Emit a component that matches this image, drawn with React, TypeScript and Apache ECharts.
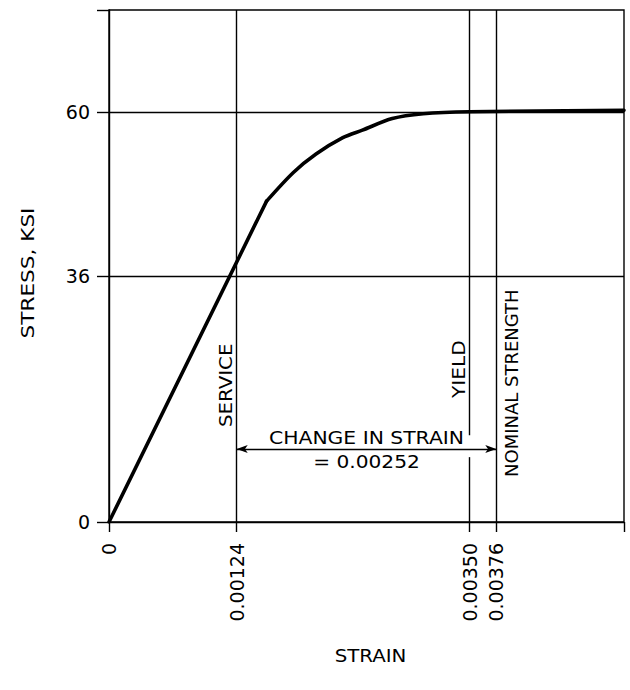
import React, { useEffect, useRef } from "react";
import * as echarts from "echarts";

// Stress-strain curve (strain, stress in ksi)
const strain = [0, 0.00153, 0.00179, 0.00201, 0.00227, 0.00246, 0.00275, 0.00305, 0.0035, 0.005];
const stress = [0, 47.0, 51.2, 53.9, 56.3, 57.4, 59.1, 59.8, 60.1, 60.3];
const kneeIndex = 1; // end of the straight elastic part

// Axis ticks and labels
const xTickValues = [0, 0.00124, 0.0035, 0.00376];
const xTickLabels = ["0", "0.00124", "0.00350", "0.00376"];
const yTickValues = [0, 36, 60];
const yTickLabels = ["0", "36", "60"];

// Reference lines
const serviceStrain = 0.00124;
const yieldStrain = 0.0035;
const nominalStrain = 0.00376;
const gridStress = [36, 60];
const changeLabel = "= 0.00252";

const X_MAX = 0.005;
const Y_MAX = 75;
const FONT = "DejaVu Sans";

export default function App() {
  const ref = useRef<HTMLDivElement>(null);

  useEffect(() => {
    if (!ref.current) return;
    const chart = echarts.init(ref.current, null, { renderer: "svg" });
    const black = "#000";
    const arrowY = 10.7;
    const gapTop = 12.7;
    const gapBottom = 9.5;
    const LW = 1.4;
    const points = strain.map((s, i) => [s, stress[i]]);

    chart.setOption({
      animation: false,
      backgroundColor: "#fff",
      grid: {
        left: 109,
        top: 10,
        right: 6,
        bottom: 168,
        show: true,
        borderColor: black,
        borderWidth: LW,
      },
      xAxis: {
        type: "value",
        min: 0,
        max: X_MAX,
        axisLine: { show: true, lineStyle: { color: black, width: LW } },
        axisTick: {
          show: true,
          length: 10,
          customValues: [...xTickValues, X_MAX],
          lineStyle: { color: black, width: LW },
        },
        axisLabel: {
          customValues: xTickValues,
          rotate: 90,
          margin: 21,
          color: black,
          fontFamily: FONT,
          fontSize: 19,
          formatter: (v: number) => {
            const i = xTickValues.findIndex((t) => Math.abs(t - v) < 1e-9);
            return i >= 0 ? xTickLabels[i] : "";
          },
        },
        splitLine: { show: false },
      },
      yAxis: {
        type: "value",
        min: 0,
        max: Y_MAX,
        axisLine: { show: true, lineStyle: { color: black, width: LW } },
        axisTick: {
          show: true,
          length: 12,
          customValues: [...yTickValues, Y_MAX],
          lineStyle: { color: black, width: LW },
        },
        axisLabel: {
          customValues: yTickValues,
          margin: 19,
          color: black,
          fontFamily: FONT,
          fontSize: 19,
          formatter: (v: number) => {
            const i = yTickValues.findIndex((t) => Math.abs(t - v) < 1e-9);
            return i >= 0 ? yTickLabels[i] : "";
          },
        },
        splitLine: { show: false },
      },
      series: [
        {
          type: "line",
          data: points.slice(0, kneeIndex + 1),
          showSymbol: false,
          symbol: "none",
          lineStyle: { color: black, width: 3.6, cap: "round", join: "round" },
          z: 5,
          markLine: {
            silent: true,
            symbol: "none",
            label: { show: false },
            lineStyle: { color: black, width: LW, type: "solid" },
            data: [
              [{ coord: [serviceStrain, Y_MAX] }, { coord: [serviceStrain, 0] }],
              [{ coord: [nominalStrain, Y_MAX] }, { coord: [nominalStrain, 0] }],
              ...gridStress.map((g) => [{ coord: [0, g] }, { coord: [X_MAX, g] }]),
              [{ coord: [yieldStrain, Y_MAX] }, { coord: [yieldStrain, gapTop] }],
              [{ coord: [yieldStrain, gapBottom] }, { coord: [yieldStrain, 0] }],
              [
                { coord: [serviceStrain, arrowY], symbol: "arrow", symbolSize: [6, 11] },
                { coord: [nominalStrain, arrowY], symbol: "arrow", symbolSize: [6, 11] },
              ],
            ],
          },
        },
        {
          type: "line",
          data: points.slice(kneeIndex),
          showSymbol: false,
          symbol: "none",
          smooth: 0.3,
          lineStyle: { color: black, width: 3.6, cap: "round", join: "round" },
          z: 5,
        },
      ],
    });

    const px = (x: number, y: number) =>
      chart.convertToPixel({ gridIndex: 0 }, [x, y]) as number[];

    const sv = px(serviceStrain, 0);
    const yl = px(yieldStrain, 0);
    const nm = px(nominalStrain, 0);
    const arr = px(serviceStrain, arrowY);
    const g0 = px(0, 0);
    const gTop = px(X_MAX, Y_MAX);
    const midX = (sv[0] + nm[0]) / 2;

    const textStyle = (extra: any) => ({
      fill: black,
      fontFamily: FONT,
      fontSize: 18,
      ...extra,
    });

    chart.setOption({
      graphic: [
        {
          type: "text",
          x: sv[0] - 11,
          y: 427,
          rotation: Math.PI / 2,
          scaleX: 1.1,
          style: textStyle({ text: "SERVICE", align: "left", verticalAlign: "middle" }),
        },
        {
          type: "text",
          x: yl[0] - 11,
          y: 398,
          rotation: Math.PI / 2,
          scaleX: 1.12,
          style: textStyle({ text: "YIELD", align: "left", verticalAlign: "middle" }),
        },
        {
          type: "text",
          x: nm[0] + 15,
          y: 477,
          rotation: Math.PI / 2,
          scaleX: 1.0,
          style: textStyle({ text: "NOMINAL STRENGTH", align: "left", verticalAlign: "middle" }),
        },
        {
          type: "text",
          x: midX,
          y: arr[1] - 11,
          scaleX: 1.13,
          style: textStyle({ text: "CHANGE IN STRAIN", align: "center", verticalAlign: "middle" }),
        },
        {
          type: "text",
          x: midX,
          y: arr[1] + 13,
          scaleX: 1.12,
          style: textStyle({ text: changeLabel, align: "center", verticalAlign: "middle" }),
        },
        {
          type: "text",
          x: 28,
          y: (g0[1] + gTop[1]) / 2 + 7,
          rotation: Math.PI / 2,
          scaleX: 1.2,
          style: textStyle({ text: "STRESS, KSI", align: "center", verticalAlign: "middle" }),
        },
        {
          type: "text",
          x: (g0[0] + gTop[0]) / 2 + 4,
          y: 655,
          scaleX: 1.1,
          style: textStyle({ text: "STRAIN", align: "center", verticalAlign: "middle" }),
        },
      ],
    });

    return () => chart.dispose();
  }, []);

  return (
    <div
      ref={ref}
      style={{ position: "fixed", left: 0, top: 0, width: 630, height: 690, background: "#fff" }}
    />
  );
}
